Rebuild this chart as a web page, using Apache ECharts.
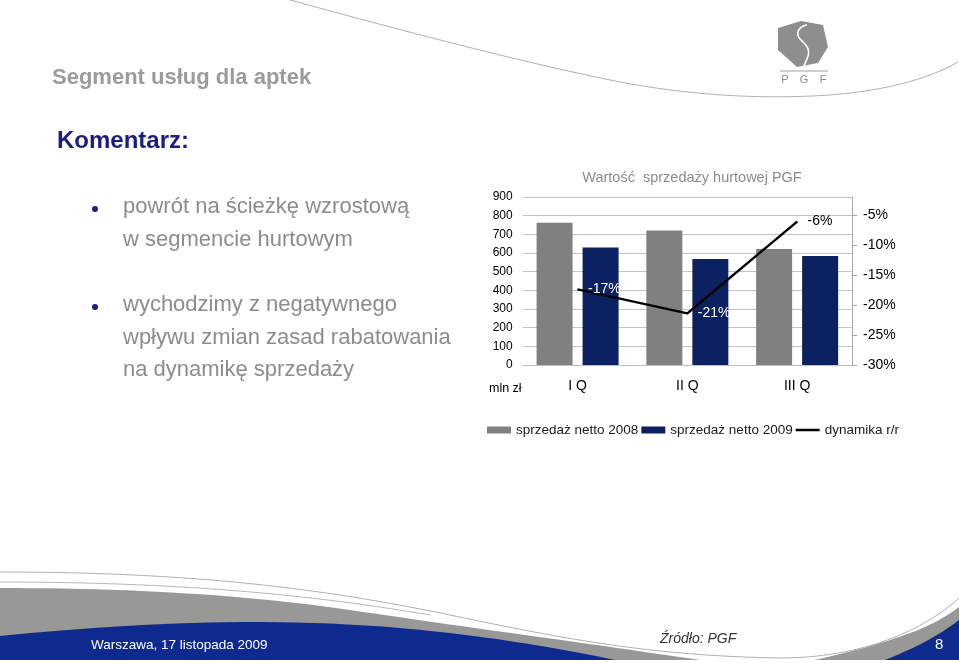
<!DOCTYPE html>
<html>
<head>
<meta charset="utf-8">
<script src="https://cdn.jsdelivr.net/npm/echarts@6/dist/echarts.min.js"></script>
<style>html,body{margin:0;padding:0;background:#fff;}#c{width:959px;height:663px;}</style>
</head>
<body>
<div id="c"></div>
<script>
const categories = ['I Q', 'II Q', 'III Q'];
const sales2008 = [762, 721, 621];
const sales2009 = [630, 568, 584];
const dynamics = [-17.4, -21.4, -6.1];
const dynamicsLabelColors = ['#ffffff', '#ffffff', '#000000'];
const seriesNames = ['sprzedaż netto 2008', 'sprzedaż netto 2009', 'dynamika r/r'];
const chartTitle = 'Wartość  sprzedaży hurtowej PGF';
const unitLabel = 'mln zł';
const bulletLines = [
  ['powrót na ścieżkę wzrostową', 'w segmencie hurtowym'],
  ['wychodzimy z negatywnego', 'wpływu zmian zasad rabatowania', 'na dynamikę sprzedaży']
];

const FF = 'Arial, "Liberation Sans", sans-serif';
function txt(text, x, y, size, fill, opts) {
  opts = opts || {};
  return {
    type: 'text', z: 10, silent: true,
    style: {
      text: text, x: x, y: y, fill: fill,
      font: (opts.style || 'normal') + ' ' + (opts.weight || 'normal') + ' ' + size + 'px ' + FF,
      textAlign: opts.align || 'left', align: opts.align || 'left',
      textVerticalAlign: 'middle', verticalAlign: 'middle'
    }
  };
}
// sample a path made of [x,y] moves/lines and [c1x,c1y,c2x,c2y,x,y] cubic segments
function samplePath(segs) {
  const pts = [[segs[0][0], segs[0][1]]];
  for (let i = 1; i < segs.length; i++) {
    const s = segs[i];
    const p0 = pts[pts.length - 1];
    if (s.length === 2) { pts.push([s[0], s[1]]); continue; }
    for (let k = 1; k <= 24; k++) {
      const t = k / 24, u = 1 - t;
      pts.push([
        u*u*u*p0[0] + 3*u*u*t*s[0] + 3*u*t*t*s[2] + t*t*t*s[4],
        u*u*u*p0[1] + 3*u*u*t*s[1] + 3*u*t*t*s[3] + t*t*t*s[5]
      ]);
    }
  }
  return pts;
}
function fillShape(segs, color) {
  return { type: 'polygon', silent: true, shape: { points: samplePath(segs) }, style: { fill: color } };
}
function strokeShape(segs, color, w) {
  return { type: 'polyline', silent: true, shape: { points: samplePath(segs) }, style: { fill: null, stroke: color, lineWidth: w } };
}

const graphics = [];
// top decorative curve
graphics.push(strokeShape([[290,0],[400,30,520,62,620,82],[700,97,770,99,830,95],[890,90,930,78,958,62]], '#b0b0b0', 1));
// logo
graphics.push({ type: 'polygon', silent: true, shape: { points: [[778,28],[801,21],[823,25],[828,47],[818,63],[797,67],[778,50]] }, style: { fill: '#8e8e8e' } });
graphics.push(strokeShape([[807,25],[801,26,797,30,798,35],[799,40,806,43,808,49],[810,55,806,60,804,66]], '#ffffff', 1.6));
graphics.push({ type: 'line', silent: true, shape: { x1: 780, y1: 71, x2: 828, y2: 71 }, style: { stroke: '#a0a0a0', lineWidth: 1 } });
graphics.push(txt('P', 785, 80, 11, '#8a8a8a', { align: 'center' }));
graphics.push(txt('G', 804, 80, 11, '#8a8a8a', { align: 'center' }));
graphics.push(txt('F', 823, 80, 11, '#8a8a8a', { align: 'center' }));
// headings
graphics.push(txt('Segment usług dla aptek', 52, 78, 22, '#9b9b9b', { weight: 'bold' }));
graphics.push(txt('Komentarz:', 57, 141.5, 24, '#1c1c85', { weight: 'bold' }));
// bullets
const bulletY = [207, 305];
bulletLines.forEach(function (lines, i) {
  graphics.push({ type: 'circle', silent: true, shape: { cx: 95, cy: bulletY[i] + 2, r: 3 }, style: { fill: '#1c1c85' } });
  lines.forEach(function (l, j) {
    graphics.push(txt(l, 123, bulletY[i] + j * 32.5, 22, '#8c8c8c'));
  });
});
// chart title and unit
graphics.push(txt(chartTitle, 692, 178, 14.5, '#8a8a8a', { align: 'center' }));
graphics.push(txt(unitLabel, 489, 389, 12.5, '#000000'));
// bottom waves
graphics.push(fillShape([[0,588],[130,588,250,595,350,610],[450,625,600,645,700,660],[0,660]], '#989896'));
graphics.push(fillShape([[0,636],[120,624,260,616,400,628],[480,635,560,648,615,660],[0,660]], '#0f2a8e'));
graphics.push(fillShape([[815,660],[880,645,930,630,959,607],[959,660]], '#989896'));
graphics.push(fillShape([[885,660],[915,648,940,635,959,620],[959,660]], '#0f2a8e'));
graphics.push(strokeShape([[0,572],[200,572,330,590,450,615],[560,638,650,656,780,658],[870,658,930,625,959,598]], '#b0b0b0', 1));
graphics.push(strokeShape([[0,582],[200,582,330,598,430,615]], '#b8b8b8', 1));
graphics.push(txt('Warszawa, 17 listopada 2009', 91, 645, 13.5, '#ffffff'));
graphics.push(txt('Źródło: PGF', 660, 639, 14, '#333333', { style: 'italic' }));
graphics.push(txt('8', 935, 645, 15, '#ffffff'));

const chart = echarts.init(document.getElementById('c'));
chart.setOption({
  animation: false,
  backgroundColor: '#ffffff',
  textStyle: { fontFamily: FF },
  graphic: { elements: graphics },
  legend: {
    left: 487, top: 423, padding: 0,
    itemWidth: 24, itemHeight: 7, itemGap: 3,
    textStyle: { fontSize: 13.5, color: '#1a1a1a', fontFamily: FF },
    data: [
      { name: seriesNames[0], icon: 'rect' },
      { name: seriesNames[1], icon: 'rect' },
      { name: seriesNames[2], icon: 'path://M0,0 L24,0 L24,2.5 L0,2.5 Z' }
    ]
  },
  grid: { left: 522.7, right: 107, top: 197, bottom: 298, containLabel: false },
  xAxis: {
    type: 'category', data: categories,
    axisLine: { show: true, lineStyle: { color: '#bfbfbf' } },
    axisTick: { show: false },
    axisLabel: { fontSize: 14, color: '#000', margin: 14, fontFamily: FF }
  },
  yAxis: [
    {
      type: 'value', min: 0, max: 900, interval: 100,
      axisLine: { show: false }, axisTick: { show: false },
      axisLabel: { fontSize: 12, color: '#000', margin: 10, fontFamily: FF },
      splitLine: { lineStyle: { color: '#c4c4c4' } }
    },
    {
      type: 'value', position: 'right', min: -30, max: -2, interval: 5,
      axisLine: { show: true, lineStyle: { color: '#a6a6a6' } },
      axisTick: { show: true, inside: false, length: 5, lineStyle: { color: '#a6a6a6' } },
      axisLabel: { fontSize: 14, color: '#000', margin: 11, showMaxLabel: false, formatter: '{value}%', fontFamily: FF },
      splitLine: { show: false }
    }
  ],
  series: [
    { name: seriesNames[0], type: 'bar', data: sales2008, barWidth: 36, barGap: '27.8%', itemStyle: { color: '#808080' } },
    { name: seriesNames[1], type: 'bar', data: sales2009, barWidth: 36, barGap: '27.8%', itemStyle: { color: '#0c2161' } },
    {
      name: seriesNames[2], type: 'line', yAxisIndex: 1, z: 5,
      data: dynamics.map(function (v, i) { return { value: v, label: { color: dynamicsLabelColors[i] } }; }),
      symbol: 'circle', symbolSize: 1, showSymbol: true,
      lineStyle: { color: '#000', width: 2.5 }, itemStyle: { color: '#000' },
      label: { show: true, position: 'right', distance: 10, fontSize: 14, fontFamily: FF,
        formatter: function (p) { return Math.round(p.value) + '%'; } }
    }
  ]
});
</script>
</body>
</html>
